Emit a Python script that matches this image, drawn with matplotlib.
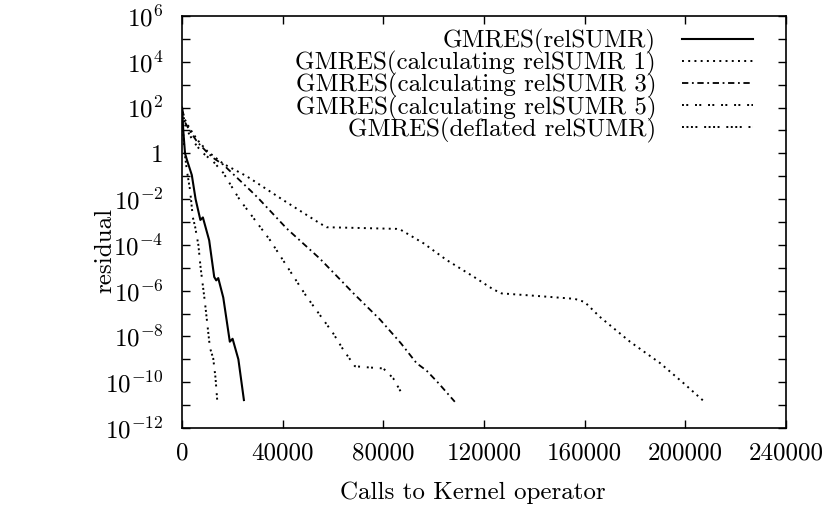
import math
import matplotlib
matplotlib.use("Agg")
import matplotlib.pyplot as plt
from matplotlib.ticker import FixedLocator, FuncFormatter

plt.rcParams['font.family'] = 'serif'
plt.rcParams['font.serif'] = ['cmr10']
plt.rcParams['mathtext.fontset'] = 'cm'
plt.rcParams['axes.formatter.use_mathtext'] = True

# residual vs calls to the kernel operator
relsumr_x = [0, 500, 1200, 2000, 3900, 5400, 7300, 8300, 10800, 12800, 13600,
             14400, 16400, 19000, 20100, 22400, 24600]
relsumr_y = [1e2, 1e1, 1.0, 5.0e-1, 1.12e-1, 1.0e-2, 1.23e-3, 1.58e-3, 1.58e-4,
             3.98e-6, 2.82e-6, 3.55e-6, 5.0e-7, 5.9e-9, 7.9e-9, 1.0e-9, 1.66e-11]

calc1_x = [0, 1000, 3000, 6000, 10000, 16400, 25000, 27000, 40200, 54800, 57500,
           70000, 85300, 87000, 96000, 105100, 116000, 123600, 127000, 140000,
           156000, 160000, 166000, 178000, 190000, 199100, 207000]
calc1_y = [1e2, 3.2e1, 1.26e1, 4.0, 1.26, 3.5e-1, 1.1e-1, 8.1e-2, 9.1e-3, 8.7e-4,
           5.9e-4, 5.5e-4, 5.0e-4, 4.5e-4, 1.17e-4, 2.2e-5, 4.0e-6, 1.15e-6,
           7.6e-7, 6.0e-7, 4.4e-7, 3.2e-7, 7.2e-8, 5.9e-9, 6.8e-10, 9.5e-11, 1.6e-11]

calc3_x = [0, 1000, 3000, 6000, 10000, 12400, 16400, 21700, 27000, 30300, 41600,
           54800, 64100, 68000, 78600, 87000, 93200, 97200, 102000, 108400]
calc3_y = [1e2, 2.5e1, 1.0e1, 3.2, 1.1, 6.3e-1, 3.2e-1, 8.9e-2, 2.5e-2, 1.1e-2,
           5.2e-4, 2.5e-5, 2.2e-6, 7.9e-7, 5.6e-8, 5.0e-9, 6.8e-10, 3.2e-10,
           8.9e-11, 1.4e-11]

calc5_x = [0, 1000, 3000, 6000, 9000, 12400, 16400, 23000, 27000, 35000, 49500,
           60100, 64100, 68700, 73400, 80000, 83900, 87900]
calc5_y = [1e2, 2.0e1, 6.3, 2.0, 8.9e-1, 4.4e-1, 1.4e-1, 9.1e-3, 2.4e-3, 1.6e-4,
           5.5e-7, 1.35e-8, 2.6e-9, 5.0e-10, 4.5e-10, 4.0e-10, 1.5e-10, 2.5e-11]

defl_x = [0, 500, 1200, 2000, 3200, 4300, 5200, 6500, 7400, 9100, 11100, 12400,
          13300, 14000]
defl_y = [1e2, 6.3, 7.9e-1, 1.6e-1, 2.5e-2, 1.6e-3, 6.3e-4, 1.0e-4, 1.0e-5,
          3.2e-7, 3.2e-9, 1.1e-9, 1.6e-10, 1.6e-11]

x_ticks = [0, 40000, 80000, 120000, 160000, 200000, 240000]
y_exps = list(range(-12, 7))

fig = plt.figure(figsize=(8.34, 5.12), dpi=100)
ax = fig.add_axes([182 / 834, 1 - 428 / 512, 604 / 834, 412 / 512])

ax.plot(relsumr_x, relsumr_y, color='black', lw=1.5, ls='-',
        label='GMRES(relSUMR)')
ax.plot(calc1_x, calc1_y, color='black', lw=1.4, ls=(0, (1, 2.2)),
        label='GMRES(calculating relSUMR 1)')
ax.plot(calc3_x, calc3_y, color='black', lw=1.3, ls=(0, (3.5, 2, 1, 2)),
        label='GMRES(calculating relSUMR 3)')
ax.plot(calc5_x, calc5_y, color='black', lw=1.4, ls=(0, (1, 1.2, 1, 3.5)),
        label='GMRES(calculating relSUMR 5)')
ax.plot(defl_x, defl_y, color='black', lw=1.4,
        ls=(0, (1, 1.3, 1, 1.3, 1, 1.3, 1, 3.5)),
        label='GMRES(deflated relSUMR)')

ax.set_yscale('log')
ax.set_xlim(0, 240000)
ax.set_ylim(1e-12, 1e6)


def ylab(v, pos):
    e = int(round(math.log10(v)))
    if e % 2:
        return ''
    if e == 0:
        return '1'
    return r'$10^{%d}$' % e


ax.yaxis.set_major_locator(FixedLocator([10.0 ** e for e in y_exps]))
ax.yaxis.set_major_formatter(FuncFormatter(ylab))
ax.yaxis.set_minor_locator(FixedLocator([]))
ax.set_xticks(x_ticks)
ax.set_xticklabels([str(t) for t in x_ticks])

ax.tick_params(which='both', direction='in', top=True, right=True,
               length=5.5, width=1.0, labelsize=18)
ax.tick_params(axis='y', pad=13.5)
ax.tick_params(axis='x', pad=10)
for s in ax.spines.values():
    s.set_linewidth(1.2)

ax.set_xlabel('Calls to Kernel operator', fontsize=18)
ax.set_ylabel('residual', fontsize=18)
ax.xaxis.set_label_coords(0.482, -0.131)
ax.yaxis.set_label_coords(-0.109, 0.43)

ax.legend(loc='upper right', bbox_to_anchor=(0.9454, 0.968),
          markerfirst=False, frameon=False, fontsize=18,
          handlelength=2.84, handletextpad=1.04, borderpad=0,
          borderaxespad=0, labelspacing=-0.12)

plt.savefig('out.png', dpi=100)
